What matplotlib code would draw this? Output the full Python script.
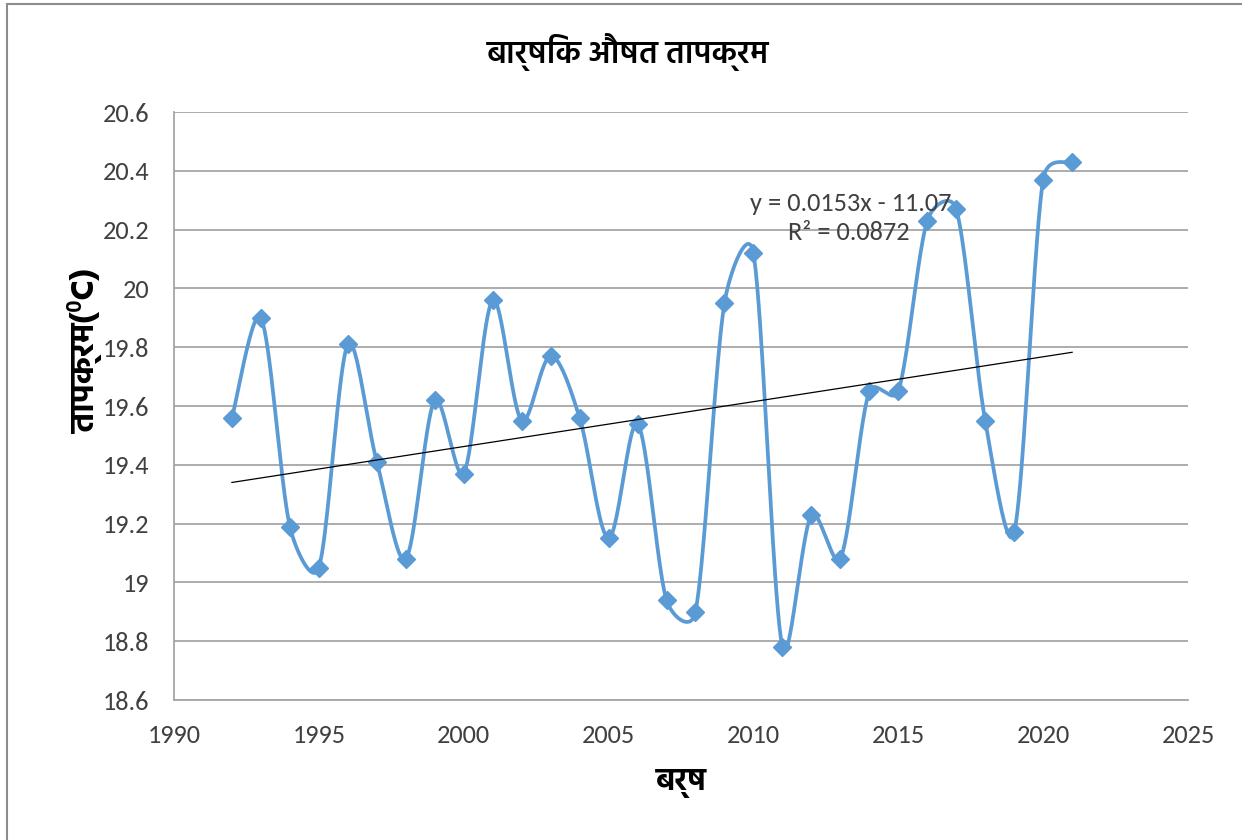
import numpy as np
import matplotlib
matplotlib.use('Agg')
import matplotlib.pyplot as plt
from matplotlib.patches import Rectangle

# yearly mean temperature
years = [1992, 1993, 1994, 1995, 1996, 1997, 1998, 1999, 2000, 2001,
         2002, 2003, 2004, 2005, 2006, 2007, 2008, 2009, 2010, 2011,
         2012, 2013, 2014, 2015, 2016, 2017, 2018, 2019, 2020, 2021]
temps = [19.56, 19.90, 19.19, 19.05, 19.81, 19.41, 19.08, 19.62, 19.37, 19.96,
         19.55, 19.77, 19.56, 19.15, 19.54, 18.94, 18.90, 19.95, 20.12, 18.78,
         19.23, 19.08, 19.65, 19.65, 20.23, 20.27, 19.55, 19.17, 20.37, 20.43]

title = 'बार्षिक औषत तापक्रम'
xlabel = 'बर्ष'
ylabel = 'तापक्रम(⁰C)'
eq_text = 'y = 0.0153x - 11.07'
r2_text = 'R² = 0.0872'

x_ticks = [1990, 1995, 2000, 2005, 2010, 2015, 2020, 2025]
y_ticks = [18.6, 18.8, 19, 19.2, 19.4, 19.6, 19.8, 20, 20.2, 20.4, 20.6]

deva = ['Hind', 'Noto Sans Devanagari', 'FreeSans', 'DejaVu Sans']
num_font = ['Carlito', 'Liberation Sans', 'DejaVu Sans']
blue = '#5B9BD5'

W, H = 1242, 840
L, R, T, B = 174, 1188, 112, 700
XMIN, XMAX, YMIN, YMAX = 1990, 2025, 18.6, 20.6


def smooth(xs, ys, sx, sy, n=40):
    # excel-ish smoothed line: bezier segments, 1/6 tangent arms shrunk
    # (softly) on the shorter side, measured in screen units
    p = np.column_stack([np.asarray(xs, float) * sx, np.asarray(ys, float) * sy])
    m = len(p)
    cin = np.zeros_like(p)
    cout = np.zeros_like(p)
    for i in range(m):
        prv = p[max(i - 1, 0)]
        nxt = p[min(i + 1, m - 1)]
        d = nxt - prv
        l1 = np.hypot(*(p[i] - prv))
        l2 = np.hypot(*(nxt - p[i]))
        tot = l1 + l2 if l1 + l2 > 0 else 1.0
        cin[i] = p[i] - d / 6 * min(1.0, np.sqrt(2 * l1 / tot))
        cout[i] = p[i] + d / 6 * min(1.0, np.sqrt(2 * l2 / tot))
    t = np.linspace(0, 1, n)[:, None]
    out = []
    for i in range(m - 1):
        a, b1, b2, c = p[i], cout[i], cin[i + 1], p[i + 1]
        seg = ((1 - t) ** 3 * a + 3 * (1 - t) ** 2 * t * b1 +
               3 * (1 - t) * t ** 2 * b2 + t ** 3 * c)
        out.append(seg if i == 0 else seg[1:])
    out = np.vstack(out)
    return out[:, 0] / sx, out[:, 1] / sy


fig = plt.figure(figsize=(W / 100, H / 100), dpi=100)
ax = fig.add_axes([L / W, 1 - B / H, (R - L) / W, (B - T) / H])

px_x = (R - L) / (XMAX - XMIN)
px_y = (B - T) / (YMAX - YMIN)
cx, cy = smooth(years, temps, px_x, px_y)
ax.plot(cx, cy, color=blue, lw=2.7, zorder=3)
ax.plot(years, temps, ls='none', marker='D', ms=9, color=blue, zorder=4)

# linear trend line
k, b = np.polyfit(years, temps, 1)
tx = np.array([years[0], years[-1]])
ax.plot(tx, k * tx + b, color='black', lw=0.9, zorder=5)

ax.set_xlim(XMIN, XMAX)
ax.set_ylim(YMIN, YMAX)
ax.set_xticks(x_ticks)
ax.set_yticks(y_ticks)
ax.set_xticklabels([str(v) for v in x_ticks], fontfamily=num_font, fontsize=19, color='#404040')
ax.set_yticklabels(['{:g}'.format(v) for v in y_ticks], fontfamily=num_font, fontsize=19, color='#404040')
ax.tick_params(axis='both', length=0)
ax.tick_params(axis='y', pad=18)
ax.tick_params(axis='x', pad=17)
ax.grid(axis='y', color='#A6A6A6', lw=1.3)
ax.set_axisbelow(True)
for s in ['top', 'right']:
    ax.spines[s].set_visible(False)
for s in ['left', 'bottom']:
    ax.spines[s].set_color('#A6A6A6')
    ax.spines[s].set_linewidth(1.3)

ax.text(2013.35, 20.29, eq_text, fontfamily=num_font, fontsize=19, color='#404040', ha='center', va='center')
ax.text(2013.3, 20.19, r2_text, fontfamily=num_font, fontsize=19, color='#404040', ha='center', va='center')

fig.text(628 / W, 1 - 52 / H, title, fontfamily=deva, fontsize=23, fontweight='semibold', ha='center', va='center')
fig.text(681 / W, 1 - 783 / H, xlabel, fontfamily=deva, fontsize=22, fontweight='bold', ha='center', va='center')
fig.text(85 / W, 1 - 351 / H, ylabel, fontfamily=deva, fontsize=24, fontweight='bold', ha='center', va='center', rotation=90)

# chart border (only top/left edges visible in the crop)
fig.patches.append(Rectangle((7 / W, -0.2), 2, 1.2 - 4 / H, transform=fig.transFigure,
                             fill=False, edgecolor='#8C8C8C', lw=1.5))

fig.savefig('out.png', dpi=100)
